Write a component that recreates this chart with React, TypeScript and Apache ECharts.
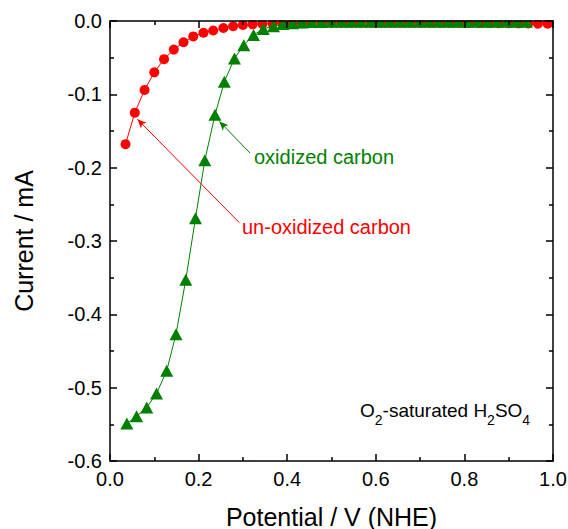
import React, { useEffect, useRef } from "react";
import * as echarts from "echarts";

const redX = [0.035, 0.056, 0.078, 0.100, 0.122, 0.144, 0.166, 0.188, 0.211, 0.233, 0.256, 0.278, 0.300, 0.322, 0.344, 0.367, 0.389, 0.411, 0.433, 0.455, 0.478, 0.500, 0.522, 0.544, 0.566, 0.589, 0.611, 0.633, 0.655, 0.677, 0.700, 0.722, 0.744, 0.766, 0.788, 0.811, 0.833, 0.855, 0.877, 0.899, 0.922, 0.944, 0.966, 0.988];
const redY = [-0.168, -0.125, -0.094, -0.070, -0.052, -0.039, -0.029, -0.021, -0.016, -0.013, -0.0095, -0.0072, -0.0055, -0.0045, -0.004, -0.0035, -0.003, -0.003, -0.003, -0.0028, -0.0028, -0.0027, -0.0027, -0.0026, -0.0026, -0.0025, -0.0025, -0.0025, -0.0025, -0.0025, -0.0025, -0.0026, -0.0026, -0.0026, -0.0027, -0.0027, -0.0028, -0.0028, -0.003, -0.003, -0.0032, -0.0034, -0.0036, -0.0038];

const greenX = [0.038, 0.060, 0.083, 0.105, 0.128, 0.149, 0.171, 0.193, 0.214, 0.237, 0.258, 0.281, 0.302, 0.324, 0.346, 0.369, 0.390, 0.412, 0.434, 0.456, 0.478, 0.500, 0.522, 0.544, 0.566, 0.588, 0.610, 0.632, 0.654, 0.676, 0.698, 0.720, 0.742, 0.764, 0.786, 0.808, 0.830, 0.852, 0.874, 0.896, 0.918, 0.940];
const greenY = [-0.549, -0.539, -0.527, -0.508, -0.477, -0.427, -0.353, -0.269, -0.190, -0.128, -0.083, -0.051, -0.033, -0.019, -0.011, -0.007, -0.004, -0.003, -0.002, -0.0015, -0.0012, -0.001, -0.001, -0.001, -0.001, -0.001, -0.001, -0.001, -0.001, -0.001, -0.001, -0.001, -0.001, -0.001, -0.001, -0.001, -0.001, -0.001, -0.001, -0.001, -0.001, -0.001];

const xTitle = "Potential / V (NHE)";
const yTitle = "Current / mA";
const greenLabel = "oxidized carbon";
const redLabel = "un-oxidized carbon";

const FONT = "'Liberation Sans', Arial, sans-serif";

export default function App() {
  const ref = useRef<HTMLDivElement>(null);
  useEffect(() => {
    if (!ref.current) return;
    const chart = echarts.init(ref.current, null, { renderer: "svg" });
    const axisLine = { show: true, onZero: false, lineStyle: { color: "#000", width: 1.5 } };
    const tick = { show: true, inside: true, length: 7, lineStyle: { color: "#000", width: 1.5 } };
    const minor = { show: true, splitNumber: 2, length: 4, lineStyle: { color: "#000", width: 1.5 } };
    const fmt = (v: number) => (Math.abs(v) < 1e-9 ? 0 : v).toFixed(1);
    const xBase = {
      type: "value", min: 0, max: 1, interval: 0.2, z: 10,
      axisLine, axisTick: tick, minorTick: minor, splitLine: { show: false }, minorSplitLine: { show: false },
    };
    const yBase = {
      type: "value", min: -0.6, max: 0, interval: 0.1, z: 10,
      axisLine, axisTick: tick, minorTick: minor, splitLine: { show: false }, minorSplitLine: { show: false },
    };
    chart.setOption({
      animation: false,
      textStyle: { fontFamily: FONT },
      grid: { left: 110, right: 15, top: 21, bottom: 68, containLabel: false, outerBoundsMode: "none" },
      xAxis: [
        {
          ...xBase, position: "bottom",
          axisLabel: { formatter: fmt, fontSize: 20, color: "#000", margin: 8, fontFamily: FONT },
          name: xTitle, nameLocation: "middle", nameGap: 43,
          nameTextStyle: { fontSize: 25, color: "#000", fontFamily: FONT },
        },
        { ...xBase, position: "top", axisLabel: { show: false } },
      ],
      yAxis: [
        {
          ...yBase, position: "left",
          axisLabel: { formatter: fmt, fontSize: 20, color: "#000", margin: 8, fontFamily: FONT },
          name: yTitle, nameLocation: "middle", nameGap: 74,
          nameTextStyle: { fontSize: 25, color: "#000", fontFamily: FONT },
        },
        { ...yBase, position: "right", axisLabel: { show: false } },
      ],
      series: [
        {
          type: "line", xAxisIndex: 0, yAxisIndex: 0,
          data: redX.map((x, i) => [x, redY[i]]),
          symbol: "circle", symbolSize: 10, showSymbol: true,
          itemStyle: { color: "#ff0000" },
          lineStyle: { color: "#ff0000", width: 1 },
          z: 2,
          markLine: {
            silent: true, animation: false,
            symbol: ["none", "arrow"], symbolSize: [6, 9],
            label: { show: false },
            lineStyle: { color: "#ff0000", width: 1, type: "solid" },
            data: [[{ coord: [0.292, -0.275] }, { coord: [0.062, -0.134] }]],
          },
        },
        {
          type: "line", xAxisIndex: 0, yAxisIndex: 0,
          data: greenX.map((x, i) => [x, greenY[i]]),
          symbol: "triangle", symbolSize: [13, 12], showSymbol: true,
          itemStyle: { color: "#008000" },
          lineStyle: { color: "#008000", width: 1 },
          z: 3,
          markLine: {
            silent: true, animation: false,
            symbol: ["none", "arrow"], symbolSize: [6, 9],
            label: { show: false },
            lineStyle: { color: "#008000", width: 1, type: "solid" },
            data: [[{ coord: [0.316, -0.180] }, { coord: [0.247, -0.137] }]],
          },
        },
      ],
      graphic: [
        { type: "rect", z: 5, shape: { x: 109, y: 0, width: 459, height: 20.2 }, style: { fill: "#fff" } },
        {
          type: "text", left: 254, top: 147, z: 6,
          style: { text: greenLabel, fill: "#008000", font: `20px ${FONT}` },
        },
        {
          type: "text", left: 242, top: 217, z: 6,
          style: { text: redLabel, fill: "#ff0000", font: `20px ${FONT}` },
        },
        {
          type: "text", left: 360, top: 401, z: 6,
          style: {
            text: "{m|O}{s|2}{m|-saturated H}{s|2}{m|SO}{s|4}",
            fill: "#000", fontFamily: FONT,
            rich: {
              m: { fontSize: 19, lineHeight: 22, verticalAlign: "top", fontFamily: FONT, fill: "#000" },
              s: { fontSize: 14, lineHeight: 13, padding: [12, 0, 0, 0], verticalAlign: "top", fontFamily: FONT, fill: "#000" },
            },
          },
        },
      ],
    });
    return () => chart.dispose();
  }, []);
  return <div ref={ref} style={{ position: "absolute", left: 0, top: 0, width: 568, height: 529 }} />;
}
